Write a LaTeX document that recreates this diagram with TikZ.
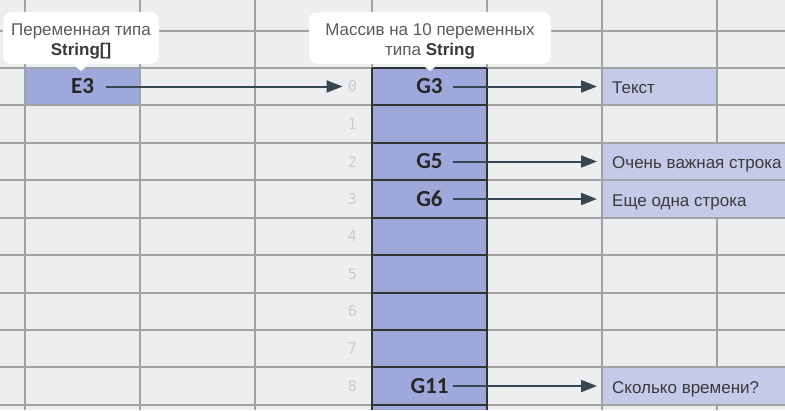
\documentclass[tikz,border=0pt]{standalone}
\usepackage{fontspec}
\setmainfont{Liberation Sans}
\newfontfamily\cellfont{Carlito}
\newfontfamily\idxfont{DejaVu Sans Mono}
\usetikzlibrary{positioning,arrows.meta}
\definecolor{shBg}{HTML}{ECEEF0}
\definecolor{shGrid}{HTML}{A0A2A4}
\definecolor{shBlue}{HTML}{9FA8DA}
\definecolor{shLight}{HTML}{C5CAE9}
\definecolor{shArrow}{HTML}{37474F}
\definecolor{shText}{HTML}{3A3A3A}
\definecolor{shNote}{HTML}{5A5A5A}
\definecolor{shIdx}{HTML}{CACCCE}

\begin{document}
\begin{tikzpicture}[x=1pt,y=-1pt,
    gridline/.style={draw=shGrid,line width=1.4pt},
    cellline/.style={draw=black!80,line width=1.4pt},
    ref/.style={font=\cellfont\bfseries\fontsize{23}{27}\selectfont,text=black!85,inner sep=0,minimum width=46pt},
    idx/.style={font=\idxfont\fontsize{15}{17}\selectfont,text=shIdx,inner sep=0,anchor=east},
    val/.style={font=\fontsize{17}{20}\selectfont,text=shText,anchor=west,inner ysep=0,inner xsep=10pt,text height=12pt,text depth=0pt},
    note/.style={fill=white,draw=black!12,rounded corners=6pt,align=center,minimum height=52pt,text height=35pt,text depth=0pt,font=\fontsize{17}{20}\selectfont,text=shNote},
    link/.style={draw=shArrow,line width=2pt,-{Triangle[length=16pt,width=12pt]},shorten >=5pt}]
  \fill[shBg] (0,0) rectangle (785,410);
  \useasboundingbox (0,0) rectangle (785,410);

  % filled cells
  \fill[shBlue] (25,68) rectangle (140,105);
  \fill[shBlue] (372,68) rectangle (487,410);
  \fill[shLight] (602,68) rectangle (717,105);
  \fill[shLight] (602,143) rectangle (785,218);
  \fill[shLight] (602,367) rectangle (785,405);

  % sheet grid
  \foreach \y in {31,68,105,143,180,218,255,293,330,367,405}
    \draw[gridline] (0,\y) -- (785,\y);
  \foreach \x in {25,140,255,372,487,602}
    \draw[gridline] (\x,0) -- (\x,410);
  \draw[gridline] (717,0) -- (717,143) (717,218) -- (717,367) (717,405) -- (717,410);

  % array column
  \foreach \y in {68,105,143,180,218,255,293,330,367,405}
    \draw[cellline] (372,\y) -- (487,\y);
  \draw[cellline] (372,68) -- (372,410) (487,68) -- (487,410);

  % indices
  \foreach \i/\y in {0/86.5,1/124,2/161.5,3/199,4/236.5,5/274,6/311.5,7/348.5,8/386}
    \node[idx] (i\i) at (357,\y) {\i};

  % references
  \node[ref] (e3) at (82.5,86.5) {E3};
  \node[ref] (g3) at (429.5,86.5) {G3};
  \node[ref] (g5) at (429.5,161.5) {G5};
  \node[ref] (g6) at (429.5,199) {G6};
  \node[ref] (g11) at (429.5,386) {G11};

  % strings
  \node[val] (v0) at (602,87.5) {Текст};
  \node[val] (v2) at (602,162.5) {Очень важная строка};
  \node[val] (v3) at (602,200) {Еще одна строка};
  \node[val] (v8) at (602,387) {Сколько времени?};

  \draw[link] (e3.east) -- (i0.west);
  \foreach \a/\b in {g3/v0,g5/v2,g6/v3,g11/v8}
    \draw[link] (\a.east) -- (\a.east -| \b.west);

  % notes
  \node[note,minimum width=156pt] (varNote) at (81,38) {Переменная типа\\\textbf{\color{shText}String[]}};
  \node[note,minimum width=242pt] (arrNote) at (430,38) {Массив на 10 переменных\\типа \textbf{\color{shText}String}};
  \foreach \n in {varNote,arrNote} {
    \fill[white] ([xshift=-8pt,yshift=0.8pt]\n.south) -- ([yshift=-7pt]\n.south) -- ([xshift=8pt,yshift=0.8pt]\n.south) -- cycle;
    \draw[black!12,line width=0.4pt] ([xshift=-8pt]\n.south) -- ([yshift=-7pt]\n.south) -- ([xshift=8pt]\n.south);
  }
\end{tikzpicture}
\end{document}
